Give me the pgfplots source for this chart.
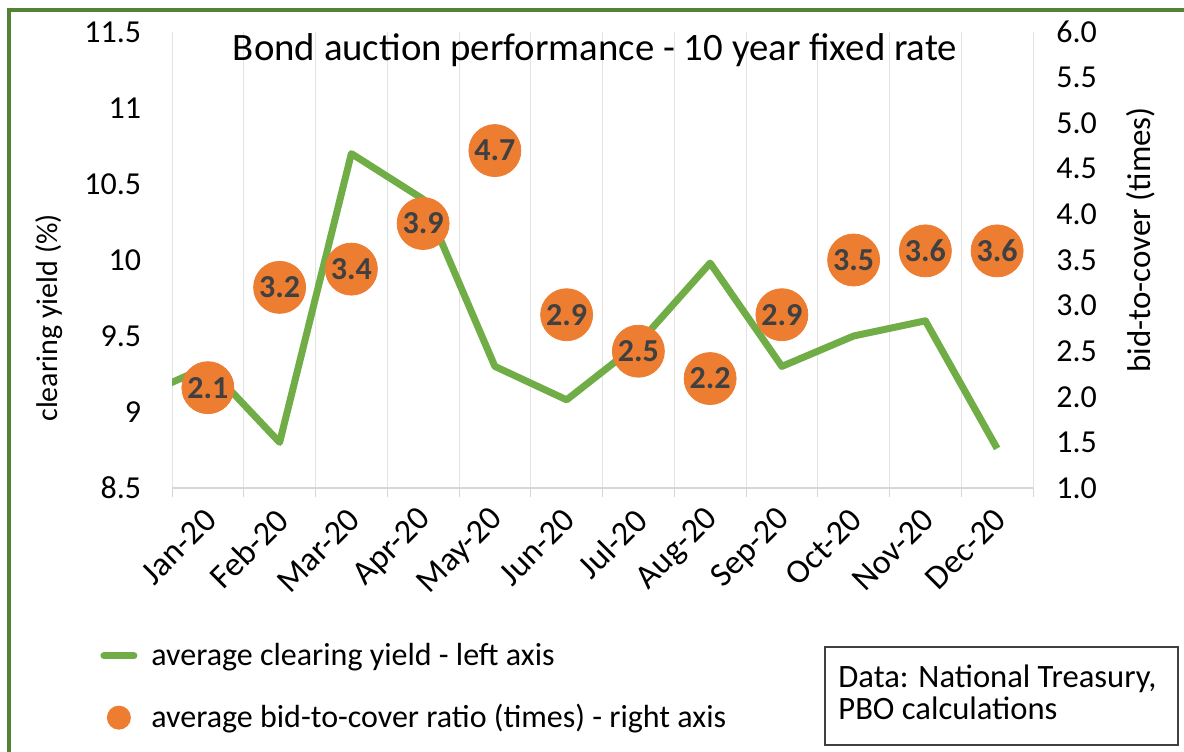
\documentclass[border=0pt]{standalone}
\usepackage{fontspec}
\setmainfont{Carlito}
\usepackage{pgfplots}
\pgfplotsset{compat=1.18}
\definecolor{lgreen}{HTML}{70AD47}
\definecolor{borange}{HTML}{ED7D31}
\definecolor{dgreen}{HTML}{548235}
\definecolor{lblgray}{HTML}{404040}
\definecolor{gridgray}{HTML}{E3E3E3}
\definecolor{axgray}{HTML}{D6D6D6}
\begin{document}
\begin{tikzpicture}
\path[use as bounding box] (0pt,0pt) rectangle (592pt,375.5pt);
\begin{axis}[
  at={(86pt,131.5pt)}, anchor=south west,
  scale only axis, width=430.5pt, height=228pt,
  xmin=-0.5, xmax=11.5, ymin=8.5, ymax=11.5,
  xtick={0,...,11},
  xticklabels={Jan-20,Feb-20,Mar-20,Apr-20,May-20,Jun-20,Jul-20,Aug-20,Sep-20,Oct-20,Nov-20,Dec-20},
  minor xtick={-0.5,0.5,...,11.5},
  xminorgrids, minor grid style={gridgray, line width=0.5pt},
  major x tick style={draw=none},
  minor x tick style={axgray, line width=0.5pt},
  minor tick length=4.5pt,
  tick align=outside,
  axis x line*=bottom,
  x axis line style={axgray, line width=0.6pt, -},
  axis y line*=left,
  y axis line style={draw=none},
  ytick={8.5,9,9.5,10,10.5,11,11.5},
  major y tick style={draw=none},
  /pgf/number format/assume math mode=true,
  tick label style={font=\fontsize{16}{18}\selectfont},
  yticklabel style={anchor=east, inner sep=0pt, xshift=-11pt},
  xticklabel style={font=\fontsize{17}{19}\selectfont, yshift=-9pt, xshift=1.5pt, rotate=45, anchor=east, inner sep=0pt},
]
\addplot[lgreen, line width=3.5pt, line join=round] coordinates {
(-1,9.09) (0,9.3) (1,8.8) (2,10.7) (3,10.4) (4,9.3) (5,9.08) (6,9.45) (7,9.98) (8,9.3) (9,9.5) (10,9.6) (11,8.76)};
\end{axis}
\begin{axis}[
  at={(86pt,131.5pt)}, anchor=south west,
  scale only axis, width=430.5pt, height=228pt,
  xmin=-0.5, xmax=11.5, ymin=1, ymax=6,
  axis x line=none,
  axis y line*=right,
  y axis line style={draw=none},
  major y tick style={draw=none},
  ytick={1,1.5,2,2.5,3,3.5,4,4.5,5,5.5,6},
  /pgf/number format/assume math mode=true,
  yticklabel style={/pgf/number format/fixed, /pgf/number format/fixed zerofill, /pgf/number format/precision=1, font=\fontsize{16}{18}\selectfont, anchor=west, inner sep=0pt, xshift=11.5pt},
  legend style={at={(axis description cs:-0.0836,-0.3395)}, anchor=north west, draw=none, fill=none, inner sep=0pt,
    font=\fontsize{16}{18}\selectfont, row sep=18pt, column sep=7pt, nodes={inner sep=0pt}},
  legend cell align=left,
]
\addlegendimage{legend image code/.code={\draw[lgreen, line width=3.5pt, line cap=round] (1.5pt,0pt) -- (16.5pt,0pt); \path[draw=none,fill=none] (0pt,0pt) -- (18pt,0pt);}}
\addlegendentry{average clearing yield - left axis}
\addplot[only marks, mark=*, mark size=13pt, mark options={fill=borange, draw=borange},
  point meta=y, nodes near coords={\pgfmathprintnumber[fixed,fixed zerofill,precision=1]{\pgfplotspointmeta}},
  nodes near coords style={anchor=center, font=\bfseries\fontsize{16}{18}\selectfont, text=lblgray, inner sep=0pt},
  legend image code/.code={\fill[borange, draw=none] (9pt,0pt) circle (6pt); \path[draw=none,fill=none] (0pt,0pt) -- (18pt,0pt);}]
  coordinates {(0,2.1) (1,3.2) (2,3.4) (3,3.9) (4,4.7) (5,2.9) (6,2.5) (7,2.2) (8,2.9) (9,3.5) (10,3.6) (11,3.6)};
\addlegendentry{average bid-to-cover ratio (times) - right axis}
\end{axis}
\begin{scope}[x=0.5pt,y=-0.5pt,shift={(0pt,375.5pt)}]
\draw[dgreen, line width=2pt] (8.5,760) -- (8.5,10.5) -- (1190,10.5);
\node[anchor=base, font=\fontsize{19.4}{23}\selectfont] at (595,61) {Bond auction performance - 10 year fixed rate};
\node[rotate=90, font=\fontsize{15}{17}\selectfont] at (49,318) {clearing yield (\%)};
\node[rotate=90, font=\fontsize{16.5}{19}\selectfont] at (1141,240) {bid-to-cover (times)};
\draw[black!75, line width=0.75pt] (825,647) rectangle (1178,745);
\node[anchor=base west, font=\fontsize{16.3}{18}\selectfont, inner sep=0pt] at (838,687) {Data: National Treasury,};
\node[anchor=base west, font=\fontsize{16.3}{18}\selectfont, inner sep=0pt] at (838,719) {PBO calculations};
\end{scope}
\end{tikzpicture}
\end{document}
